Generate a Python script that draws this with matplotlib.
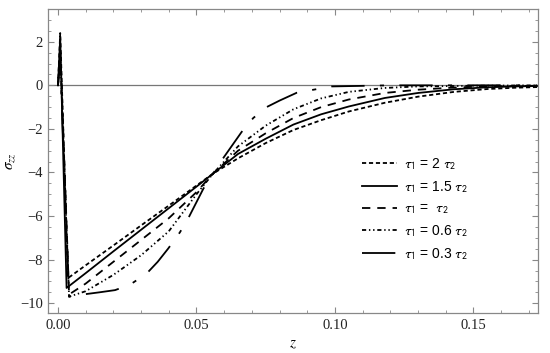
import matplotlib
matplotlib.use("Agg")
import matplotlib.pyplot as plt
from matplotlib.ticker import MultipleLocator

plt.rcParams['lines.scale_dashes'] = False
plt.rcParams['mathtext.fontset'] = 'stix'

# values
z_a = [0, 0.0008, 0.0036, 0.01, 0.02, 0.03, 0.04, 0.05, 0.056, 0.065, 0.075, 0.085,
       0.095, 0.105, 0.118, 0.13, 0.143, 0.155, 0.165, 0.173]
s_a = [0, 2.4, -8.85, -8.26, -7.35, -6.43, -5.52, -4.6, -4.05, -3.35, -2.65, -2.05,
       -1.6, -1.2, -0.8, -0.52, -0.3, -0.17, -0.11, -0.08]

z_b = [0, 0.0008, 0.0031, 0.01, 0.02, 0.03, 0.04, 0.05, 0.056, 0.065, 0.075, 0.085,
       0.095, 0.105, 0.118, 0.13, 0.143, 0.155, 0.165, 0.173]
s_b = [0, 2.2, -9.3, -8.62, -7.62, -6.63, -5.64, -4.65, -4.05, -3.15, -2.45, -1.8,
       -1.33, -0.97, -0.58, -0.35, -0.18, -0.09, -0.05, -0.03]

z_c = [0, 0.0008, 0.004, 0.01, 0.02, 0.03, 0.04, 0.05, 0.056, 0.065, 0.075, 0.085,
       0.095, 0.105, 0.118, 0.13, 0.143, 0.155, 0.173]
s_c = [0, 1.8, -9.6, -9.1, -8.1, -7.1, -6.1, -4.9, -4.05, -3.0, -2.2, -1.5,
       -1.0, -0.65, -0.35, -0.2, -0.1, -0.05, -0.02]

z_d = [0, 0.0008, 0.004, 0.01, 0.02, 0.03, 0.04, 0.05, 0.056, 0.065, 0.075, 0.085,
       0.095, 0.105, 0.118, 0.13, 0.15, 0.173]
s_d = [0, 1.5, -9.7, -9.45, -8.7, -7.8, -6.7, -5.0, -4.05, -2.8, -1.85, -1.1,
       -0.6, -0.3, -0.12, -0.05, -0.02, 0]

z_e = [0, 0.0008, 0.004, 0.009, 0.015, 0.0206, 0.026, 0.032, 0.036, 0.0398, 0.044,
       0.047, 0.0525, 0.056, 0.0591, 0.0663, 0.0705, 0.0753, 0.08, 0.0862, 0.0988,
       0.12, 0.173]
s_e = [0, 1.0, -9.7, -9.6, -9.5, -9.4, -9.15, -8.64, -8.1, -7.49, -6.75,
       -6.11, -4.74, -4.05, -3.44, -2.14, -1.5, -1.0, -0.7, -0.34, -0.05,
       0, 0]

labels = [r'$\tau_1$ = 2 $\tau_2$', r'$\tau_1$ = 1.5 $\tau_2$', r'$\tau_1$ =  $\tau_2$',
          r'$\tau_1$ = 0.6 $\tau_2$', r'$\tau_1$ = 0.3 $\tau_2$']

fig = plt.figure(figsize=(5.5, 3.53), dpi=100)
ax = fig.add_axes([48.3 / 550, 1 - 313 / 353, (538 - 48.3) / 550, (313 - 9.3) / 353])

ax.axhline(0, color='#777777', lw=0.9, zorder=1)

lw = 1.3
ax.plot(z_a, s_a, color='black', lw=lw, ls=(0, (3, 2)), label=labels[0])
ax.plot(z_b, s_b, color='black', lw=lw, ls='-', label=labels[1])
ax.plot(z_c, s_c, color='black', lw=lw, ls=(0, (6, 5)), label=labels[2])
ax.plot(z_d, s_d, color='black', lw=lw, ls=(0, (3, 2, 1, 2, 1, 2)), label=labels[3])
ax.plot(z_e, s_e, color='black', lw=lw, ls=(0, (24, 11, 3, 11)), label=labels[4])

ax.set_xlim(-0.0035, 0.1733)
ax.set_ylim(-10.45, 3.49)

ax.xaxis.set_major_locator(MultipleLocator(0.05))
ax.xaxis.set_minor_locator(MultipleLocator(0.01))
ax.yaxis.set_major_locator(MultipleLocator(2))
ax.yaxis.set_minor_locator(MultipleLocator(0.5))
ax.xaxis.set_major_formatter(plt.FuncFormatter(lambda v, p: f'{v:.2f}'))
ax.yaxis.set_major_formatter(plt.FuncFormatter(lambda v, p: f'{v:.0f}'.replace('-', '\u2212')))

for sp in ax.spines.values():
    sp.set_color('#888888')
    sp.set_linewidth(0.9)
ax.tick_params(which='both', direction='in', top=True, right=True, color='#888888',
               labelsize=10.5, labelcolor='#222222', pad=4)
ax.tick_params(which='major', length=4, width=0.8)
ax.tick_params(which='minor', length=2, width=0.6)
for t in ax.get_xticklabels() + ax.get_yticklabels():
    t.set_fontfamily('Liberation Serif')

ax.set_xlabel('$z$', fontsize=11, labelpad=3)
ax.set_ylabel(r'$\sigma_{zz}$', fontsize=11, labelpad=2)

leg = ax.legend(loc='upper left', bbox_to_anchor=(362 / 550, 1 - 156 / 353),
                bbox_transform=fig.transFigure, frameon=False,
                prop={'family': 'Liberation Sans', 'size': 10},
                handlelength=2.5, handletextpad=0.55, labelspacing=0.5,
                borderaxespad=0, borderpad=0)
for t in leg.get_texts():
    t.set_math_fontfamily('stixsans')

fig.savefig('out.png', dpi=100)
